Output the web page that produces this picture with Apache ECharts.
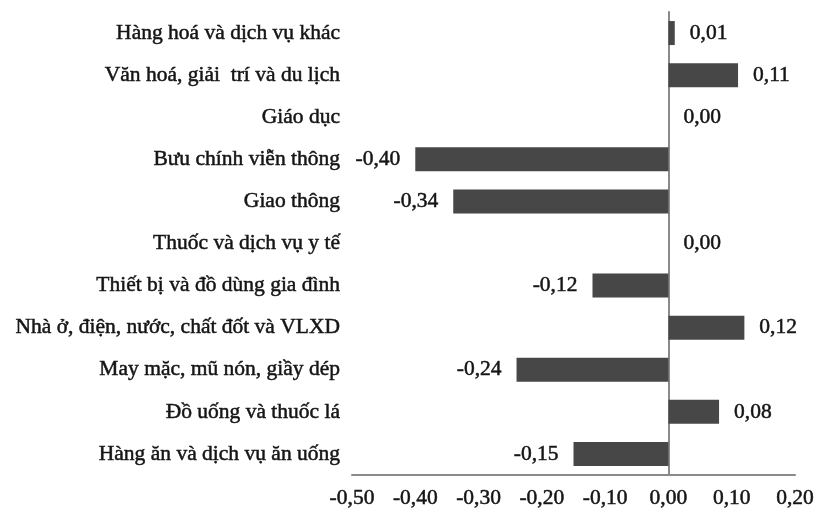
<!DOCTYPE html>
<html><head><meta charset="utf-8">
<script src="https://cdn.jsdelivr.net/npm/echarts@6/dist/echarts.min.js"></script>
<style>html,body{margin:0;padding:0;background:#fff;}#c{width:820px;height:515px;}</style>
</head><body><div id="c"></div>
<script>
const categories = [
  "Hàng hoá và dịch vụ khác",
  "Văn hoá, giải  trí và du lịch",
  "Giáo dục",
  "Bưu chính viễn thông",
  "Giao thông",
  "Thuốc và dịch vụ y tế",
  "Thiết bị và đồ dùng gia đình",
  "Nhà ở, điện, nước, chất đốt và VLXD",
  "May mặc, mũ nón, giầy dép",
  "Đồ uống và thuốc lá",
  "Hàng ăn và dịch vụ ăn uống"
];
const values = [0.01, 0.11, 0.00, -0.40, -0.34, 0.00, -0.12, 0.12, -0.24, 0.08, -0.15];
const xTicks = [-0.5, -0.4, -0.3, -0.2, -0.1, 0, 0.1, 0.2];

const fmt = v => v.toFixed(2).replace('.', ',');
const font = '"Liberation Serif", "DejaVu Serif", serif';
const txt = {color: '#151515', fontFamily: font, fontSize: 21.5, textBorderColor: '#151515', textBorderWidth: 0.5};
const chart = echarts.init(document.getElementById('c'));
chart.setOption({
  animation: false,
  grid: {left: 352, right: 25, top: 12, bottom: 40},
  xAxis: {
    type: 'value', min: xTicks[0], max: xTicks[xTicks.length-1], interval: 0.1,
    splitLine: {show: false},
    axisLine: {show: true, lineStyle: {color: '#8a8a8a', width: 2}},
    axisTick: {show: false},
    axisLabel: Object.assign({formatter: v => fmt(v), margin: 12}, txt)
  },
  yAxis: {
    type: 'category', data: categories, inverse: true,
    axisLine: {show: true, onZero: true, lineStyle: {color: '#8a8a8a', width: 2}},
    axisTick: {show: false},
    axisLabel: Object.assign({margin: 12}, txt)
  },
  series: [{
    type: 'bar',
    barWidth: 24,
    itemStyle: {color: '#474747'},
    data: values.map(v => ({
      value: v,
      label: {position: v < 0 ? 'left' : 'right', distance: 15}
    })),
    label: Object.assign({show: true, formatter: p => fmt(p.value)}, txt)
  }]
});
</script></body></html>
